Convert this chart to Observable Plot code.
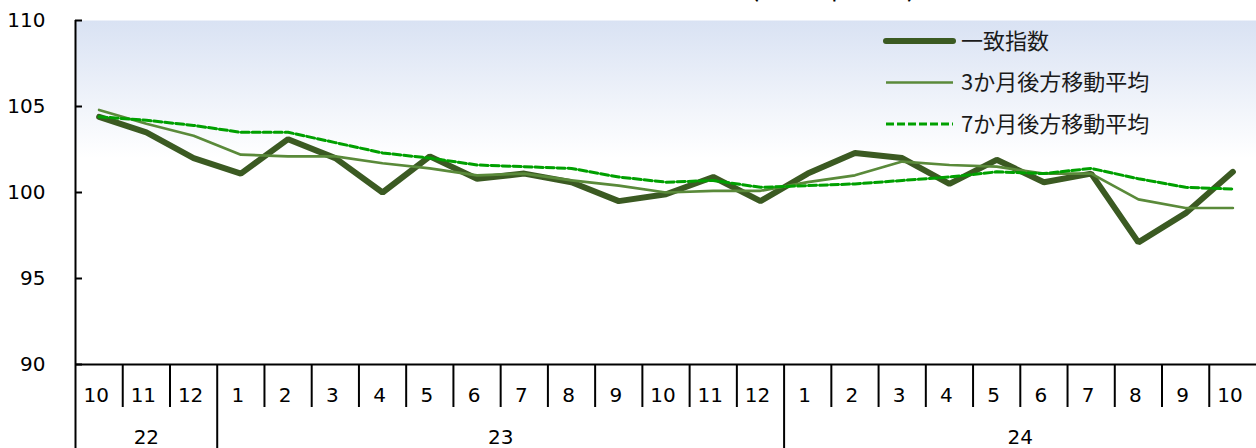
<!DOCTYPE html>
<html>
<head>
<meta charset="utf-8">
<script src="https://cdn.jsdelivr.net/npm/d3@7"></script>
<script src="https://cdn.jsdelivr.net/npm/@observablehq/plot@0.6"></script>
<style>
  html, body { margin: 0; padding: 0; background: #fff; }
  #wrap { position: relative; width: 1256px; height: 448px; overflow: hidden; }
  #overlay { position: absolute; left: 0; top: 0; pointer-events: none; }
</style>
</head>
<body>
<div id="wrap"></div>
<script>
// ---- data ----
const months = ["10","11","12","1","2","3","4","5","6","7","8","9","10","11","12","1","2","3","4","5","6","7","8","9","10"];
const years = ["22","23","24"];
const yearStarts = [0, 3, 15];
const yearEnds = [3, 15, 25];
const coincident = [104.4,103.5,102.0,101.1,103.1,102.0,100.0,102.1,100.8,101.1,100.6,99.5,99.9,100.9,99.5,101.1,102.3,102.0,100.5,101.9,100.6,101.1,97.1,98.8,101.2];
const ma3 = [104.8,104.0,103.3,102.2,102.1,102.1,101.7,101.4,101.0,101.1,100.7,100.4,100.0,100.1,100.1,100.6,101.0,101.8,101.6,101.5,101.1,101.1,99.6,99.1,99.1];
const ma7 = [104.4,104.2,103.9,103.5,103.5,102.9,102.3,102.0,101.6,101.5,101.4,100.9,100.6,100.7,100.3,100.4,100.5,100.7,100.9,101.2,101.1,101.4,100.8,100.3,100.2];
const seriesNames = ["一致指数", "3か月後方移動平均", "7か月後方移動平均"];
const yTicks = [90, 95, 100, 105, 110];
const titleText = "（2020年=100）";

// ---- derived ----
const rows = months.map((m, i) => ({x: i + 0.5, c: coincident[i], m3: ma3[i], m7: ma7[i]}));
const monthCenters = months.map((m, i) => i + 0.5);
const monthSeps = d3.range(1, months.length).filter(i => !yearStarts.includes(i));
const yearMids = yearStarts.map((s, i) => (s + yearEnds[i]) / 2);
const yearLabel = new Map(yearMids.map((m, i) => [m, years[i]]));

const C_THICK = "#3b5a22", C_M3 = "#5a8a3a", C_M7 = "#00a000";

const gradientDefs = () => {
  const defs = d3.create("svg:defs");
  const g = defs.append("linearGradient").attr("id", "bg")
    .attr("x1", 0).attr("y1", 0).attr("x2", 0).attr("y2", 1);
  g.append("stop").attr("offset", "0%").attr("stop-color", "#d9e2f3");
  g.append("stop").attr("offset", "40%").attr("stop-color", "#ffffff");
  return defs.node();
};

const chart = Plot.plot({
  width: 1256,
  height: 448,
  marginLeft: 75,
  marginRight: 0,
  marginTop: 20,
  marginBottom: 84,
  x: {type: "linear", domain: [0, months.length], axis: null, label: null},
  y: {domain: [90, 110], axis: null, label: null},
  style: {fontFamily: "'DejaVu Sans', Verdana, sans-serif", fontSize: "20px", color: "#000", background: "transparent"},
  marks: [
    gradientDefs,
    Plot.frame({fill: "url(#bg)", stroke: null}),
    // y labels
    Plot.axisY(yTicks, {anchor: "left", label: null, tickSize: 0, tickPadding: 30, fontSize: 20}),
    // inward y ticks
    Plot.axisY(yTicks, {anchor: "left", label: null, tickSize: 7, dx: 7, strokeWidth: 2, tickFormat: () => ""}),
    // month separators
    Plot.axisX(monthSeps, {anchor: "bottom", label: null, tickSize: 43, strokeWidth: 2, tickFormat: () => ""}),
    // year separators
    Plot.axisX(yearStarts, {anchor: "bottom", label: null, tickSize: 84, strokeWidth: 2, tickFormat: () => ""}),
    // month labels
    Plot.axisX(monthCenters, {anchor: "bottom", label: null, tickSize: 0, tickPadding: 23, dx: -3, fontSize: 20,
      tickFormat: d => months[Math.floor(d)]}),
    // year labels
    Plot.axisX(yearMids, {anchor: "bottom", label: null, tickSize: 0, tickPadding: 65, fontSize: 20,
      tickFormat: d => yearLabel.get(d)}),
    // axis lines
    Plot.ruleX([0], {stroke: "#000", strokeWidth: 2}),
    Plot.ruleY([90], {stroke: "#000", strokeWidth: 2}),
    // series
    Plot.line(rows, {x: "x", y: "c", stroke: C_THICK, strokeWidth: 6, strokeLinecap: "round", strokeLinejoin: "miter"}),
    Plot.line(rows, {x: "x", y: "m3", stroke: C_M3, strokeWidth: 2.7}),
    Plot.line(rows, {x: "x", y: "m7", stroke: C_M7, strokeWidth: 3, strokeDasharray: "8,3"})
  ]
});

const wrap = document.getElementById("wrap");
wrap.appendChild(chart);

// overlay: legend and (cropped) title
const ov = d3.select(wrap).append("svg").attr("id", "overlay")
  .attr("width", 1256).attr("height", 448);

ov.append("text").attr("x", 833).attr("y", -1.5)
  .attr("text-anchor", "middle")
  .attr("font-family", "'Noto Sans CJK JP', sans-serif")
  .attr("font-size", 27).attr("fill", "#000")
  .text(titleText);

const legendStyles = [
  {stroke: C_THICK, width: 6, dash: null, cap: "round"},
  {stroke: C_M3, width: 2.7, dash: null, cap: "butt"},
  {stroke: C_M7, width: 3, dash: "8,3", cap: "butt"}
];
const lg = ov.append("g");
seriesNames.forEach((name, i) => {
  const y = 41 + i * 41.5;
  const s = legendStyles[i];
  lg.append("line").attr("x1", 886).attr("x2", 953).attr("y1", y).attr("y2", y)
    .attr("stroke", s.stroke).attr("stroke-width", s.width)
    .attr("stroke-linecap", s.cap)
    .attr("stroke-dasharray", s.dash);
  lg.append("text").attr("x", 961).attr("y", y).attr("dy", "0.36em")
    .attr("font-family", "'Noto Sans CJK JP', sans-serif")
    .attr("font-size", 22).attr("fill", "#1a1a1a")
    .text(name);
});
</script>
</body>
</html>
